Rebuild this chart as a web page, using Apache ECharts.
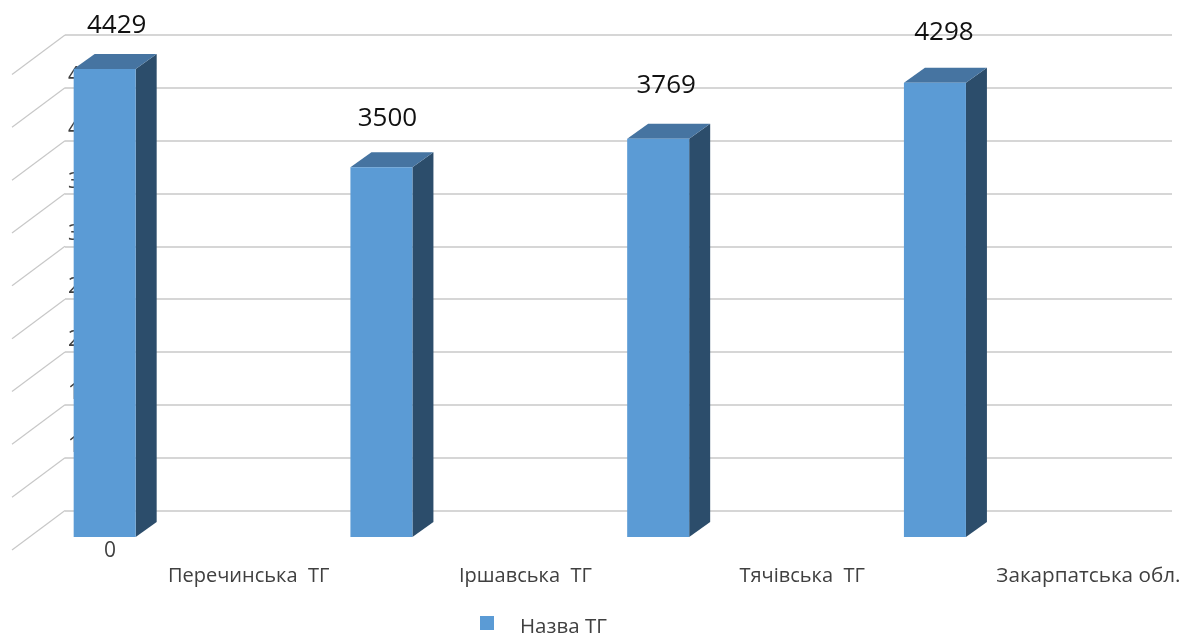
<!DOCTYPE html>
<html>
<head>
<meta charset="utf-8">
<style>html,body{margin:0;padding:0;background:#fff}#c{width:1191px;height:637px}</style>
<script src="https://cdn.jsdelivr.net/npm/echarts@6/dist/echarts.min.js"></script>
</head>
<body>
<div id="c"></div>
<script>
const categories = ['Перечинська  ТГ', 'Іршавська  ТГ', 'Тячівська  ТГ', 'Закарпатська обл.'];
const seriesName = 'Назва ТГ';
const values = [4429, 3500, 3769, 4298];
const yTicks = [0, 500, 1000, 1500, 2000, 2500, 3000, 3500, 4000, 4500];

const FONT = '"Open Sans", sans-serif';
const labelNudge = [[12, -43.5], [6, -49], [8, -53.5], [9, -50.5]];
const chart = echarts.init(document.getElementById('c'));

function renderBar(params, api) {
  const i = api.value(0), v = api.value(1);
  const top = api.coord([i, v]);
  const base = api.coord([i, 0]);
  const w = 62, dx = 21, dy = 15;
  const l = top[0] - w / 2, r = top[0] + w / 2;
  return {
    type: 'group',
    children: [
      { type: 'polygon', shape: { points: [[r, top[1]], [r + dx, top[1] - dy], [r + dx, base[1] - dy], [r, base[1]]] }, style: { fill: '#2C4D6B' } },
      { type: 'polygon', shape: { points: [[l, top[1]], [l + dx, top[1] - dy], [r + dx, top[1] - dy], [r, top[1]]] }, style: { fill: '#4674A1' } },
      { type: 'rect', shape: { x: l, y: top[1], width: w, height: base[1] - top[1] }, style: { fill: '#5B9BD5' } },
      { type: 'text', style: { x: top[0] + labelNudge[i][0], y: top[1] + labelNudge[i][1], text: String(v), fill: '#111', font: '26px ' + FONT, textAlign: 'center', textVerticalAlign: 'middle' } }
    ]
  };
}

function renderWall(params, api) {
  const p = api.coord([0, api.value(1)]);
  return { type: 'line', shape: { x1: p[0], y1: p[1], x2: p[0] - 53, y2: p[1] + 39.5 }, style: { stroke: '#C8C8C8', lineWidth: 1.2, fill: null } };
}

chart.setOption({
  animation: false,
  backgroundColor: '#fff',
  grid: [
    { left: 65, width: 1107, top: 35, height: 475.5, outerBoundsMode: 'none' },
    { left: -33.7, width: 1107, top: 61.5, height: 475.5, outerBoundsMode: 'none' }
  ],
  xAxis: [
    { gridIndex: 0, type: 'value', min: 0, max: 1, show: false },
    {
      gridIndex: 1, type: 'category',
      data: categories.map((c, i) => i === 3 ? { value: c, textStyle: { fontSize: 20.7, padding: [0, 0, 0, 307] } } : c),
      axisLine: { show: false }, axisTick: { show: false },
      axisLabel: { interval: 0, margin: 29, color: '#404040', fontFamily: FONT, fontSize: 20, padding: [0, 0, 0, 288] }
    }
  ],
  yAxis: [
    {
      gridIndex: 0, type: 'value', min: 0, max: 4500, interval: 500,
      axisLine: { show: false }, axisTick: { show: false }, axisLabel: { show: false },
      splitLine: { lineStyle: { color: '#C8C8C8', width: 1.6 } }
    },
    {
      gridIndex: 1, type: 'value', min: 0, max: 4500, interval: 500,
      axisLine: { show: false }, axisTick: { show: false }, splitLine: { show: false },
      axisLabel: { margin: -149.7, align: 'right', verticalAlign: 'top', lineHeight: 29, color: '#404040', fontFamily: FONT, fontSize: 21, formatter: v => String(v) }
    }
  ],
  legend: {
    data: [seriesName], left: 480, top: 616, padding: 0, itemWidth: 14, itemHeight: 14, icon: 'rect',
    formatter: n => '{a|' + n + '}',
    textStyle: { rich: { a: { color: '#404040', fontFamily: FONT, fontSize: 20.5, padding: [9, 0, 0, 21] } } }
  },
  series: [
    {
      name: 'wall', type: 'custom', xAxisIndex: 0, yAxisIndex: 0, z: 1, silent: true,
      data: yTicks.map(v => [0, v]), renderItem: renderWall
    },
    {
      name: seriesName, type: 'custom', xAxisIndex: 1, yAxisIndex: 1, z: 5,
      itemStyle: { color: '#5B9BD5' },
      data: values.map((v, i) => [i, v]), encode: { x: 0, y: 1 }, renderItem: renderBar, clip: false
    }
  ]
});
</script>
</body>
</html>
